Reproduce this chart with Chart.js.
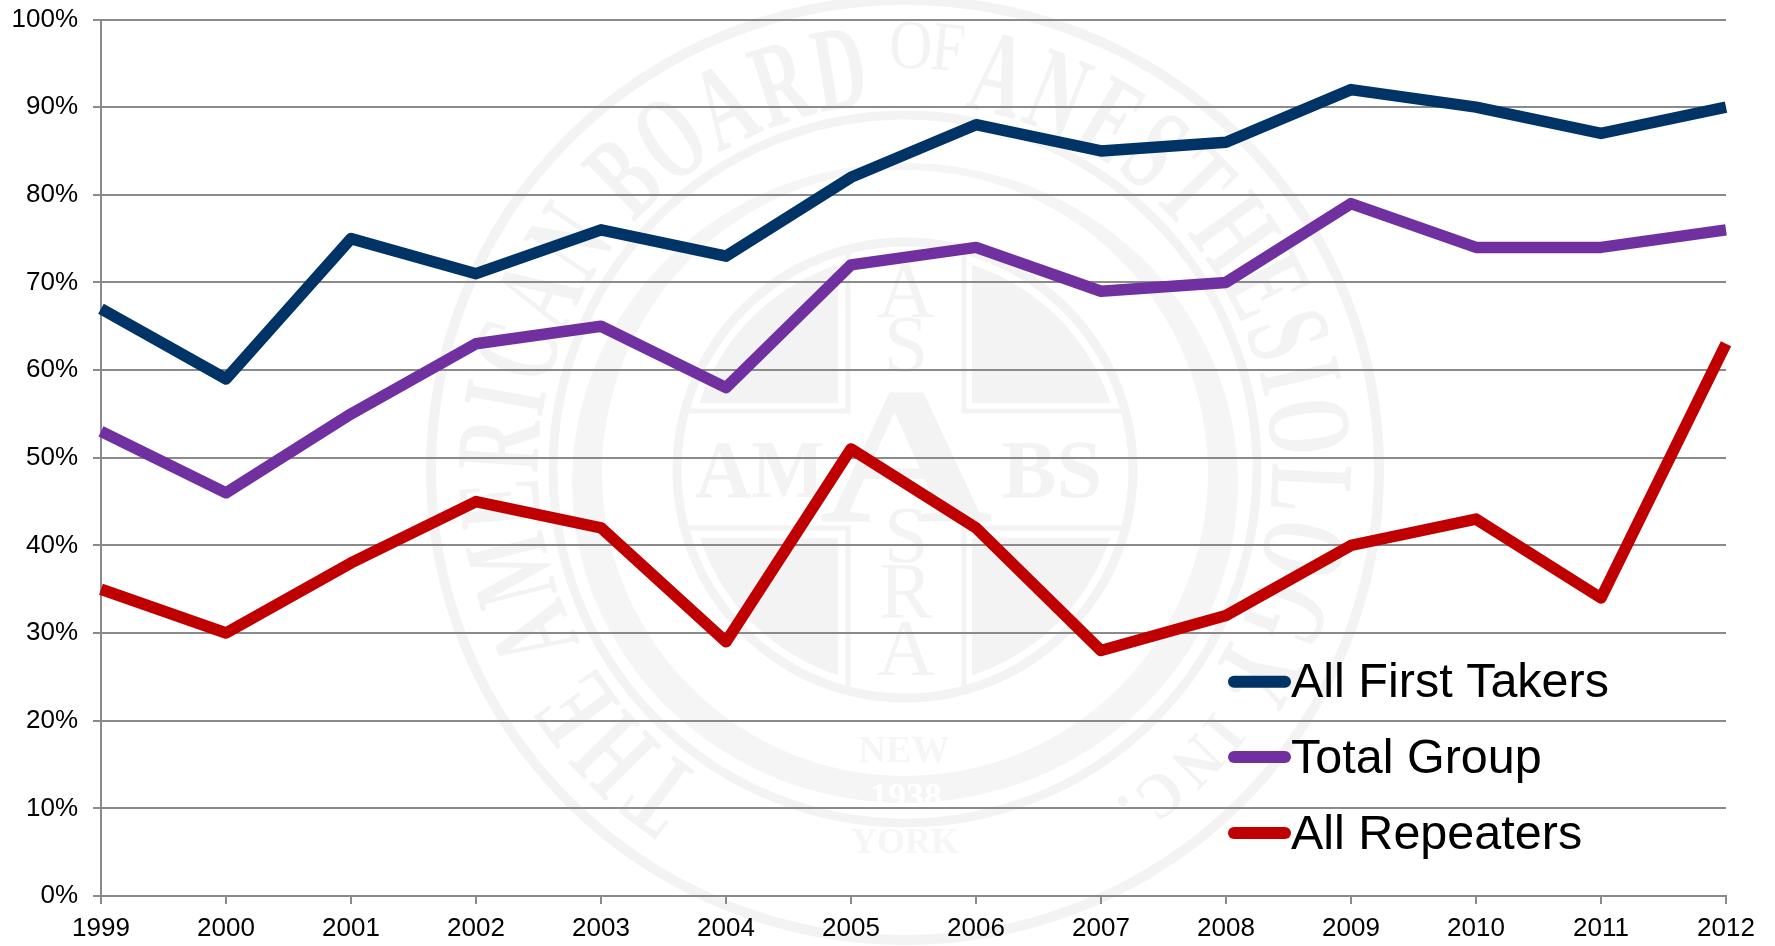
<!DOCTYPE html>
<html><head><meta charset="utf-8">
<style>html,body{margin:0;padding:0;background:#fff}#w{width:1775px;height:946px;position:relative}</style>
<script src="https://cdn.jsdelivr.net/npm/chart.js@4"></script>
</head><body><div id="w"><canvas id="c" width="1775" height="946"></canvas></div>
<script>
const categories=['1999','2000','2001','2002','2003','2004','2005','2006','2007','2008','2009','2010','2011','2012'];
const firstTakers=[67,59,75,71,76,73,82,88,85,86,92,90,87,90];
const totalGroup=[53,46,55,63,65,58,72,74,69,70,79,74,74,76];
const repeaters=[35,30,38,45,42,29,51,42,28,32,40,43,34,63];
const sealCx=905,sealCy=470;
const sealLeft='THE AMERICAN BOARD';
const sealOf='OF';
const sealRight='ANESTHESIOLOGY';
const sealEnd=', INC.';
const GREY='#f3f3f3';

function ring(ctx,rx,ry,cy,w){ctx.beginPath();ctx.lineWidth=w;ctx.ellipse(sealCx,cy,rx,ry,0,0,Math.PI*2);ctx.stroke();}
function arcText(ctx,str,from,to,r,size,sx,weight){
  ctx.font=weight+' '+size+'px "Liberation Serif"';
  const widths=[...str].map(ch=>ctx.measureText(ch).width*sx);
  const gap=size*0.05;
  const total=widths.reduce((a,b)=>a+b+gap,0);
  const k=(to-from)/total;
  let a=from;
  [...str].forEach((ch,i)=>{
    const da=(widths[i]+gap)*k;
    const mid=a+da/2;
    ctx.save();
    ctx.translate(sealCx,sealCy);
    ctx.rotate(mid*Math.PI/180);
    ctx.translate(0,-r);
    ctx.scale(sx,1);
    ctx.textAlign='center';ctx.textBaseline='alphabetic';
    ctx.fillText(ch,0,0);
    ctx.restore();
    a+=da;
  });
}
function letter(ctx,str,x,base,size,weight,sx){
  ctx.save();ctx.translate(x,base);ctx.scale(sx||1,1);
  ctx.font=weight+' '+size+'px "Liberation Serif"';
  ctx.fillText(str,0,0);ctx.restore();
}
const sealPlugin={id:'seal',beforeDraw(chart){
  const ctx=chart.ctx;ctx.save();
  ctx.fillStyle='#fff';ctx.fillRect(0,0,chart.width,chart.height);
  ctx.strokeStyle=GREY;ctx.fillStyle=GREY;
  ring(ctx,474,470,470,10);
  ring(ctx,352,354,469,9);
  // crescent band
  ctx.fillStyle='#f5f5f5';
  ctx.beginPath();
  ctx.ellipse(sealCx,483,333,320,0,0,Math.PI*2);
  ctx.ellipse(sealCx,473,303,303,0,0,Math.PI*2);
  ctx.fill('evenodd');
  ctx.fillStyle=GREY;
  ring(ctx,228,228,470,9);
  arcText(ctx,sealLeft,-147,-5,367,120,.6,'bold');
  arcText(ctx,sealOf,-2,8,402,70,.85,'normal');
  arcText(ctx,sealRight,9,124,367,120,.6,'bold');
  arcText(ctx,sealEnd,122,148,392,64,.9,'bold');
  // quadrants clipped by inner circle
  ctx.save();
  ctx.beginPath();ctx.arc(sealCx,sealCy,216,0,Math.PI*2);ctx.clip();
  ctx.fillRect(sealCx-216,sealCy-216,149,149);
  ctx.fillRect(sealCx+67,sealCy-216,149,149);
  ctx.fillRect(sealCx-216,sealCy+68,149,148);
  ctx.fillRect(sealCx+67,sealCy+68,149,148);
  ctx.restore();
  ctx.lineWidth=5;
  ctx.beginPath();
  ctx.moveTo(sealCx-57,sealCy-225);ctx.lineTo(sealCx-57,sealCy-59);ctx.lineTo(sealCx-217,sealCy-59);
  ctx.moveTo(sealCx+59,sealCy-225);ctx.lineTo(sealCx+59,sealCy-59);ctx.lineTo(sealCx+217,sealCy-59);
  ctx.moveTo(sealCx-57,sealCy+225);ctx.lineTo(sealCx-57,sealCy+58);ctx.lineTo(sealCx-217,sealCy+58);
  ctx.moveTo(sealCx+59,sealCy+225);ctx.lineTo(sealCx+59,sealCy+58);ctx.lineTo(sealCx+217,sealCy+58);
  ctx.stroke();
  ctx.textAlign='center';ctx.textBaseline='alphabetic';
  letter(ctx,'A',906,522,195,'bold',1.23);
  letter(ctx,'AM',760,497,82,'bold',.95);
  letter(ctx,'BS',1052,497,82,'bold',1);
  letter(ctx,'A',906,317,80,'normal');
  letter(ctx,'S',906,371,80,'normal');
  letter(ctx,'S',906,562,80,'normal');
  letter(ctx,'R',906,618,80,'normal');
  letter(ctx,'A',906,675,80,'normal');
  ctx.fillStyle='#f6f6f6';
  letter(ctx,'NEW',904,762,38,'bold');
  letter(ctx,'YORK',905,853,36,'bold');
  ctx.fillStyle='#ffffff';
  letter(ctx,'1938',906,808,36,'bold');
  ctx.restore();
}};
const legendPlugin={id:'sideLegend',afterDatasetsDraw(chart){
  const ctx=chart.ctx;ctx.save();
  const ys=[681.7,757,833];
  const bases=[697,773,848.5];
  chart.data.datasets.forEach((d,i)=>{
    ctx.strokeStyle=d.borderColor;ctx.lineWidth=12;ctx.lineCap='round';
    ctx.beginPath();ctx.moveTo(1234,ys[i]);ctx.lineTo(1285,ys[i]);ctx.stroke();
    ctx.fillStyle='#000';ctx.font='48.5px "Liberation Sans"';ctx.textBaseline='alphabetic';ctx.textAlign='left';
    ctx.fillText(d.label,1291,bases[i]);
  });
  ctx.restore();
}};
const tickFont={family:'"Liberation Sans"',size:26};
const lineDs=(label,data,color)=>({label,data,borderColor:color,backgroundColor:color,borderWidth:11.5,pointRadius:0,tension:0,borderJoinStyle:'round',fill:false});
new Chart(document.getElementById('c'),{
  type:'line',
  data:{labels:categories,datasets:[
    lineDs('All First Takers',firstTakers,'#003366'),
    lineDs('Total Group',totalGroup,'#7030a0'),
    lineDs('All Repeaters',repeaters,'#c00000')]},
  plugins:[sealPlugin,legendPlugin],
  options:{
    responsive:false,animation:false,devicePixelRatio:1,
    layout:{padding:{top:19.5,right:49,left:0,bottom:0}},
    plugins:{legend:{display:false},tooltip:{enabled:false},title:{display:false}},
    scales:{
      x:{type:'category',offset:false,
        grid:{display:true,drawOnChartArea:false,drawTicks:true,tickLength:8,color:'#8a8a8a',lineWidth:2},
        border:{display:true,color:'#8a8a8a',width:2},
        ticks:{font:tickFont,color:'#000',padding:9,maxRotation:0,autoSkip:false},
        afterFit(s){s.height=50;s.paddingLeft=0;s.paddingRight=0;}},
      y:{min:0,max:100,
        grid:{display:true,drawTicks:true,tickLength:8,color:'#8a8a8a',lineWidth:2},
        border:{display:true,color:'#8a8a8a',width:2},
        ticks:{font:tickFont,color:'#000',padding:15,stepSize:10,callback:v=>v+'%'},
        afterFit(s){s.width=101;s.paddingTop=0;s.paddingBottom=0;}}
    }
  }
});
</script></body></html>
